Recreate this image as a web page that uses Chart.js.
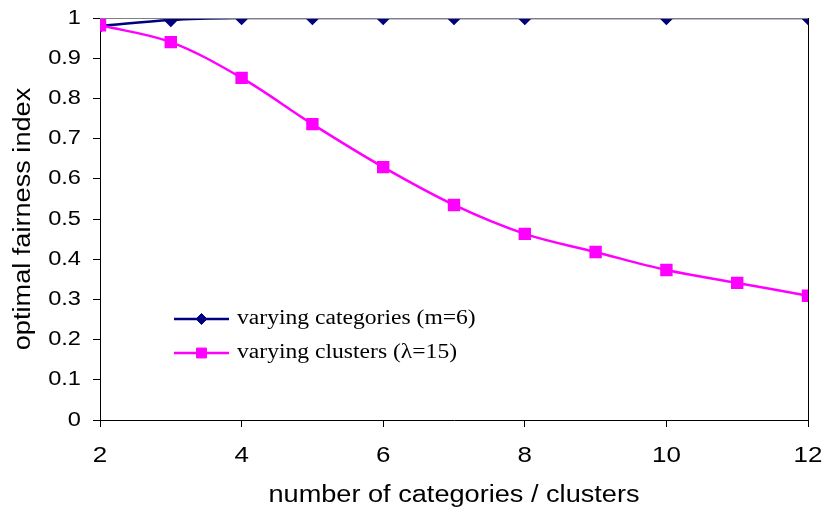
<!DOCTYPE html>
<html><head><meta charset="utf-8">
<script src="https://cdn.jsdelivr.net/npm/chart.js@4.4.0/dist/chart.umd.min.js"></script>
<style>html,body{margin:0;padding:0;background:#fff}canvas{display:block}</style>
</head><body>
<canvas id="c" width="827" height="509"></canvas>
<script>
const categoriesX = [2, 3, 4, 5, 6, 7, 8, 10, 12];
const categoriesY = [0.98, 0.995, 1, 1, 1, 1, 1, 1, 1];
const clustersX = [2, 3, 4, 5, 6, 7, 8, 9, 10, 11, 12];
const clustersY = [0.982, 0.94, 0.851, 0.736, 0.629, 0.535, 0.463, 0.418, 0.373, 0.341, 0.309];
const seriesNames = ['varying categories (m=6)', 'varying clusters (\u03bb=15)'];
const xTitle = 'number of categories / clusters';
const yTitle = 'optimal fairness index';

const pts = (xs, ys) => xs.map((x, i) => ({x: x, y: ys[i]}));
const SANS = '"Liberation Sans", Arial, sans-serif';

// widen glyphs along the text direction to match the reference's wide text
const stretchText = {
  id: 'stretchText',
  beforeDraw(chart) {
    const ctx = chart.ctx;
    if (ctx._stretched) return;
    ctx._stretched = true;
    const orig = ctx.fillText;
    ctx.fillText = function (text, x, y, maxWidth) {
      const sx = this._sx || 1.18;
      this.save();
      this.translate(x, y);
      this.scale(sx, 1);
      orig.call(this, text, 0, 0);
      this.restore();
    };
  }
};

const frame = {
  id: 'frame',
  afterDatasetsDraw(chart) {
    const a = chart.chartArea, ctx = chart.ctx;
    ctx.save();
    ctx.lineWidth = 1;
    ctx.strokeStyle = '#808080';
    ctx.beginPath(); ctx.moveTo(a.left, a.top + 0.5); ctx.lineTo(a.right, a.top + 0.5); ctx.stroke();
    ctx.strokeStyle = '#000';
    ctx.beginPath(); ctx.moveTo(a.right + 0.5, a.top); ctx.lineTo(a.right + 0.5, a.bottom); ctx.stroke();
    ctx.restore();
  },
  afterDraw(chart) {
    const ctx = chart.ctx;
    const ds = chart.data.datasets;
    const ys = [319, 353];
    ctx.save();
    [0, 1].forEach((di, k) => {
      const d = ds[di];
      const y = ys[k];
      ctx.strokeStyle = d.borderColor;
      ctx.lineWidth = 2.5;
      ctx.beginPath(); ctx.moveTo(174, y); ctx.lineTo(229, y); ctx.stroke();
      ctx.fillStyle = d.pointBackgroundColor;
      ctx.strokeStyle = d.pointBorderColor;
      ctx.lineWidth = 1;
      Chart.helpers.drawPoint(ctx, {pointStyle: d.pointStyle, radius: d.pointRadius, borderWidth: 1}, 201.5, y);
      ctx.fillStyle = '#000';
      ctx.font = '20px "Liberation Serif", "Times New Roman", serif';
      ctx.textBaseline = 'middle';
      ctx.textAlign = 'left';
      ctx._sx = 1.18;
      ctx.fillText(d.label, 237, y);
      ctx._sx = null;
    });
    ctx.restore();
  }
};

new Chart(document.getElementById('c'), {
  type: 'line',
  data: {
    datasets: [
      {
        label: seriesNames[0],
        data: pts(categoriesX, categoriesY),
        borderColor: '#000080',
        backgroundColor: '#000080',
        pointBackgroundColor: '#000080',
        pointBorderColor: '#000080',
        pointStyle: 'rectRot',
        pointRadius: 5.5,
        borderWidth: 2.5,
        tension: 0.35,
        order: 1
      },
      {
        label: seriesNames[1],
        data: pts(clustersX, clustersY),
        borderColor: '#FF00FF',
        backgroundColor: '#FF00FF',
        pointBackgroundColor: '#FF00FF',
        pointBorderColor: '#FF00FF',
        pointStyle: 'rect',
        pointRadius: 7,
        borderWidth: 2.5,
        tension: 0.35,
        order: 0
      }
    ]
  },
  options: {
    responsive: false,
    animation: false,
    devicePixelRatio: 1,
    layout: {autoPadding: false, padding: {left: 0, right: 19, top: 18, bottom: 0}},
    plugins: {legend: {display: false}, tooltip: {enabled: false}},
    scales: {
      x: {
        type: 'linear', min: 2, max: 12,
        afterFit(s) { s.height = 89; s.paddingLeft = 0; s.paddingRight = 0; },
        ticks: {stepSize: 2, color: '#000', padding: 16, font: {family: SANS, size: 22}},
        grid: {drawOnChartArea: false, color: '#000', tickLength: 7},
        border: {display: true, color: '#000', width: 1},
        title: {display: true, text: xTitle, color: '#000', font: {family: SANS, size: 23},
          padding: {top: 0, bottom: 0}}
      },
      y: {
        type: 'linear', min: 0, max: 1,
        afterFit(s) { s.width = 100; s.paddingTop = 0; s.paddingBottom = 0; },
        ticks: {stepSize: 0.1, color: '#000', padding: 12, font: {family: SANS, size: 20},
          callback: v => Math.round(v * 10) / 10 + ''},
        grid: {drawOnChartArea: false, color: '#000', tickLength: 7},
        border: {display: true, color: '#000', width: 1},
        title: {display: true, text: yTitle, color: '#000', font: {family: SANS, size: 23},
          padding: {top: 10, bottom: 0}}
      }
    }
  },
  plugins: [stretchText, frame]
});
</script>
</body></html>
